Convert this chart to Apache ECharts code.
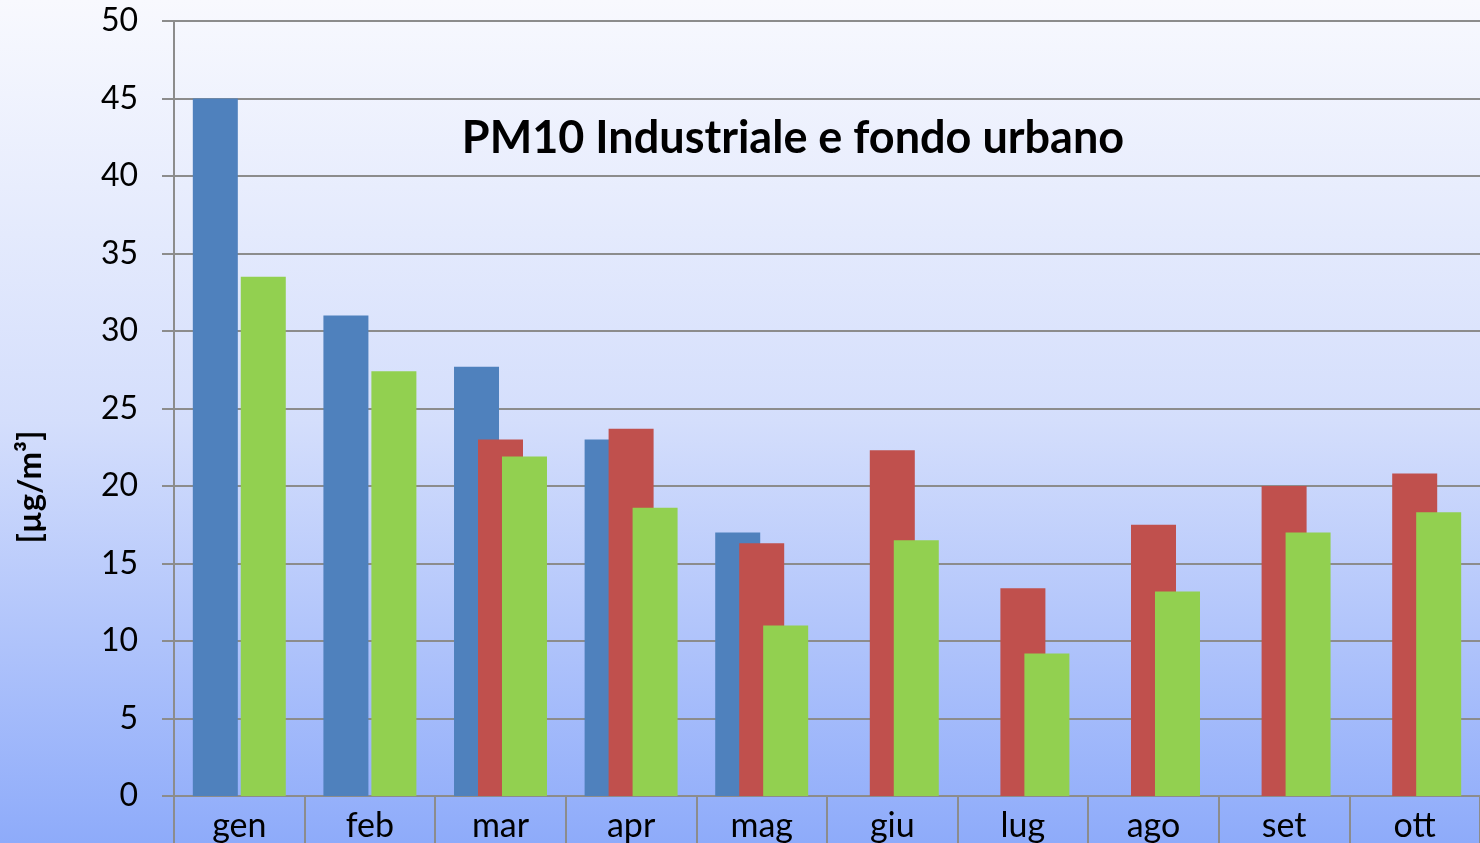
<!DOCTYPE html>
<html>
<head>
<meta charset="utf-8">
<script src="https://cdn.jsdelivr.net/npm/echarts@6/dist/echarts.min.js"></script>
<style>
  html, body { margin: 0; padding: 0; }
  #chart { width: 1480px; height: 843px; }
</style>
</head>
<body>
<div id="chart"></div>
<script>
// mesi
var months = ["gen", "feb", "mar", "apr", "mag", "giu", "lug", "ago", "set", "ott"];
// serie (µg/m³)
var blueVals = [45, 31, 27.7, 23, 17, null, null, null, null, null];
var redVals = [null, null, 23, 23.7, 16.3, 22.3, 13.4, 17.5, 20, 20.8];
var greenVals = [33.5, 27.4, 21.9, 18.6, 11, 16.5, 9.2, 13.2, 17, 18.3];
// asse y
var yMin = 0, yMax = 50, yStep = 5;

var myChart = echarts.init(document.getElementById("chart"));
var font = "Lato, 'Open Sans', sans-serif";

var option = {
  animation: false,
  backgroundColor: {
    type: "linear", x: 0, y: 0, x2: 0, y2: 1,
    colorStops: [
      { offset: 0, color: "#f8f9fe" },
      { offset: 0.5, color: "#d4defc" },
      { offset: 1, color: "#8eabfa" }
    ]
  },
  grid: { left: 174, right: -2, top: 21, bottom: 47, containLabel: false },
  graphic: [
    {
      type: "text", x: 793, y: 138,
      style: {
        text: "PM10 Industriale e fondo urbano",
        fill: "#000", font: "bold 45px " + font,
        align: "center", verticalAlign: "middle"
      }
    },
    {
      type: "text", x: 30, y: 487, rotation: Math.PI / 2,
      style: {
        text: "[µg/m³]",
        fill: "#000", font: "bold 33px " + font,
        align: "center", verticalAlign: "middle"
      }
    }
  ],
  xAxis: {
    type: "category",
    data: months,
    axisLine: { show: true, lineStyle: { color: "#8c8c8c", width: 2 } },
    axisTick: { show: true, interval: 0, length: 50, lineStyle: { color: "#8c8c8c", width: 2 } },
    axisLabel: { color: "#000", fontSize: 34, fontFamily: font, margin: 13, interval: 0 },
    splitLine: { show: false }
  },
  yAxis: {
    type: "value",
    min: yMin, max: yMax, interval: yStep,
    axisLine: { show: true, lineStyle: { color: "#8c8c8c", width: 2 } },
    axisTick: { show: true, length: 12, lineStyle: { color: "#8c8c8c", width: 2 } },
    axisLabel: { color: "#000", fontSize: 32, fontFamily: font, margin: 36 },
    splitLine: { show: true, lineStyle: { color: "#8c8c8c", width: 2 } }
  },
  series: [
    { name: "Industriale 1", type: "bar", data: blueVals, barWidth: 45, barGap: "-46.7%",
      itemStyle: { color: "#4f81bd" } },
    { name: "Industriale 2", type: "bar", data: redVals, barWidth: 45, barGap: "-46.7%",
      itemStyle: { color: "#c0504d" } },
    { name: "Fondo urbano", type: "bar", data: greenVals, barWidth: 45, barGap: "-46.7%",
      itemStyle: { color: "#92d050" } }
  ]
};

myChart.setOption(option);
</script>
</body>
</html>
